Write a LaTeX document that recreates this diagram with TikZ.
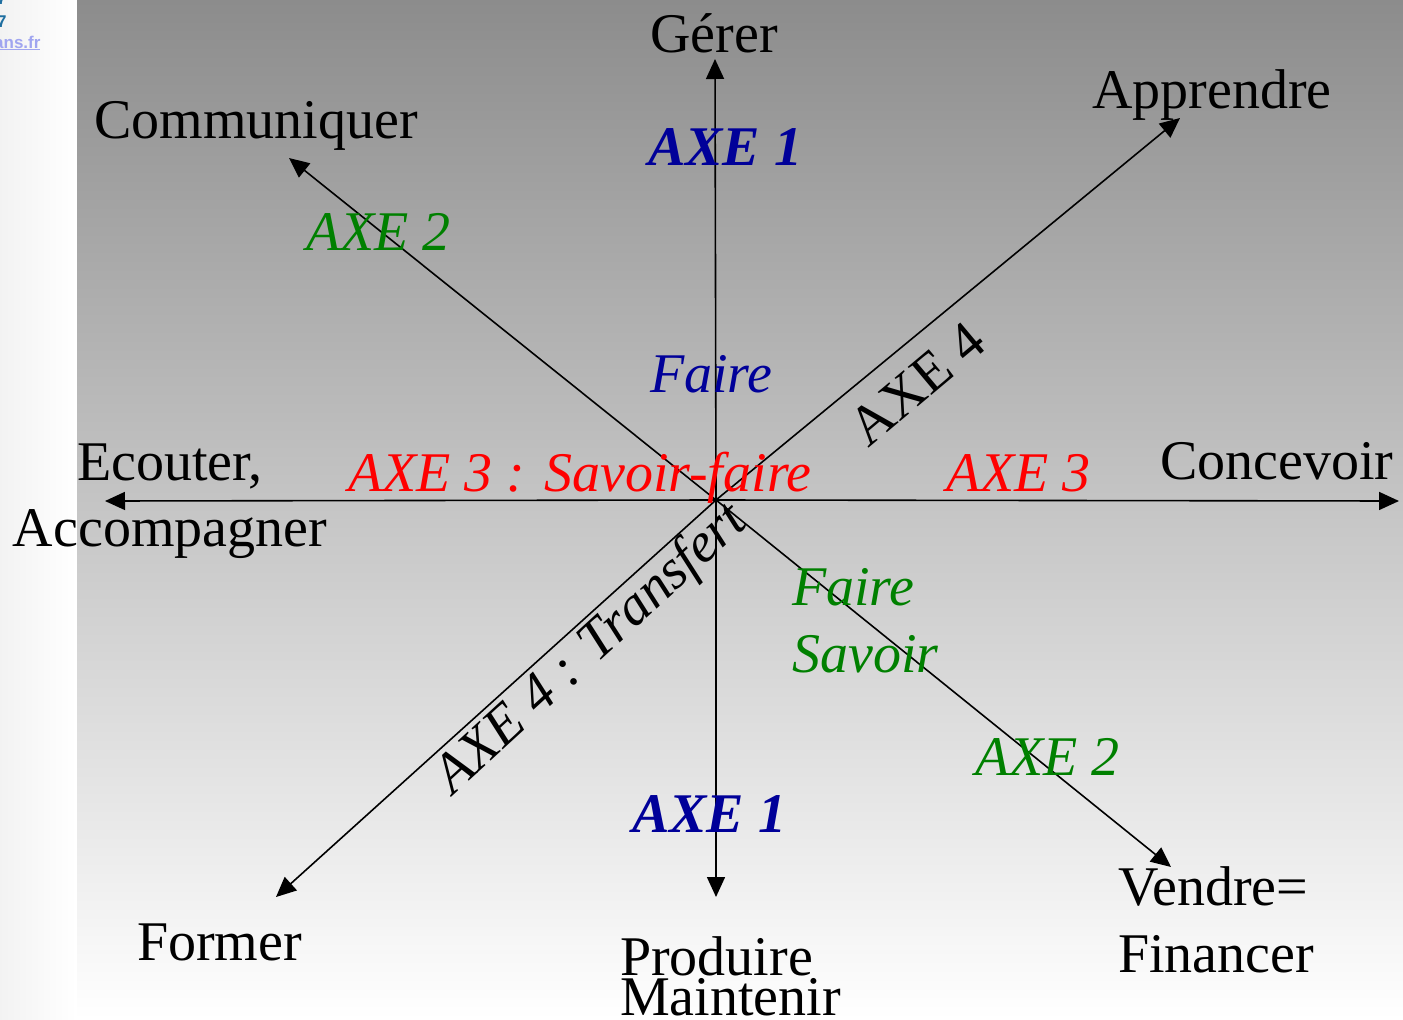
\documentclass[tikz,border=0pt]{standalone}
\usepackage{fontspec}
\setmainfont{Liberation Serif}
\newfontfamily\webfont{Liberation Sans}
\usetikzlibrary{arrows.meta}
\definecolor{axblue}{RGB}{0,0,153}
\definecolor{axgreen}{RGB}{0,128,0}
\definecolor{axred}{RGB}{255,0,0}
\definecolor{bgtop}{RGB}{140,140,140}
\definecolor{linkblue}{RGB}{30,110,160}
\definecolor{linklight}{RGB}{160,165,240}
\tikzset{
  big/.style={font=\fontsize{56}{60}\selectfont, inner sep=0pt},
  lbl/.style={big, anchor=base west},
  axarrow/.style={line width=1.6pt, -{Triangle[length=20pt,width=18pt]}},
  blueaxe/.style={lbl, text=axblue, font=\fontsize{56}{60}\selectfont\bfseries\itshape},
  greenit/.style={lbl, text=axgreen, font=\fontsize{56}{60}\selectfont\itshape},
  redit/.style={lbl, text=axred, font=\fontsize{56}{60}\selectfont\itshape},
  blueit/.style={lbl, text=axblue, font=\fontsize{56}{60}\selectfont\itshape},
}
\begin{document}
\begin{tikzpicture}[x=1pt,y=-1pt]
\useasboundingbox (0,0) rectangle (1403,1020);
% backgrounds
\shade[left color=gray!10, right color=white] (0,0) rectangle (77,1020);
\shade[top color=bgtop, bottom color=white] (77,0) rectangle (1403,1020);
% web page fragment
\node[anchor=base west, inner sep=0pt, text=linkblue, font=\webfont\fontsize{17}{18}\selectfont\bfseries] (w0) at (-3,4) {7};
\node[anchor=base west, inner sep=0pt, text=linkblue, font=\webfont\fontsize{17}{18}\selectfont\bfseries] (w1) at (-3,27) {7};
\node[anchor=base west, inner sep=0pt, text=linklight, font=\webfont\fontsize{17}{18}\selectfont\bfseries] (w2) at (-6,48) {\underline{ans.fr}};
% center and tips
\coordinate (O) at (716,500);
\coordinate (tN) at (715,59);
\coordinate (tS) at (716,897);
\coordinate (tW) at (105,501);
\coordinate (tE) at (1399,501);
\coordinate (tNW) at (289,158);
\coordinate (tNE) at (1180,118);
\coordinate (tSW) at (276,897);
\coordinate (tSE) at (1171,867);
\foreach \t in {tN,tS,tW,tE,tNW,tNE,tSW,tSE} \draw[axarrow] (O) -- (\t);
% end labels
\node[lbl] (gerer) at (650,52) {Gérer};
\node[lbl] (comm) at (94,138) {Communiquer};
\node[lbl] (appr) at (1092,108) {Apprendre};
\node[big, anchor=base] (ecout) at (170,480) {Ecouter,};
\node[big, anchor=base] (accomp) at (170,546) {Accompagner};
\node[lbl] (conc) at (1160,479) {Concevoir};
\node[lbl] (form) at (137,960) {Former};
\node[lbl] (prod) at (620,975) {Produire};
\node[lbl] (maint) at (620,1015) {Maintenir};
\node[lbl] (vend) at (1118,905) {Vendre=};
\node[lbl] (fin) at (1118,972) {Financer};
% axis labels
\node[blueaxe] (ax1t) at (648,165) {AXE 1};
\node[blueaxe] (ax1b) at (632,832) {AXE 1};
\node[greenit] (ax2t) at (306,250) {AXE 2};
\node[greenit] (ax2b) at (975,775) {AXE 2};
\node[blueit] (faire) at (650,392) {Faire};
\node[redit] (ax3l) at (348,491) {AXE 3 : Savoir-faire};
\node[redit] (ax3r) at (946,491) {AXE 3};
\node[greenit] (fs1) at (792,605) {Faire};
\node[greenit] (fs2) at (792,672) {Savoir};
\node[big, rotate=40] (ax4t) at (917,384) {AXE 4};
\node[big, rotate=42.5, font=\fontsize{56}{60}\selectfont\itshape] (ax4b) at (592,650) {AXE 4 : Transfert};
\end{tikzpicture}
\end{document}
